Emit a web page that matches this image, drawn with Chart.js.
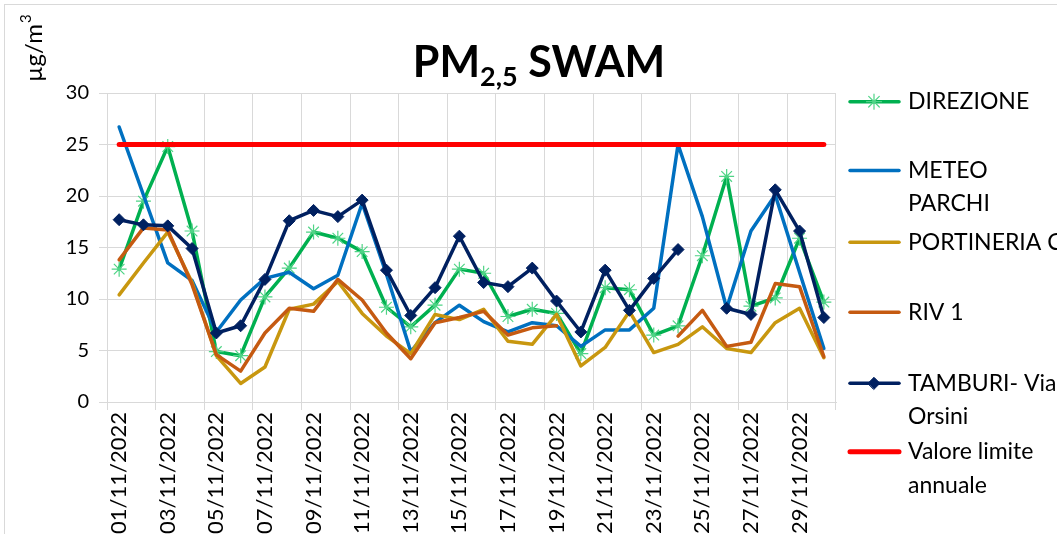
<!DOCTYPE html>
<html><head><meta charset="utf-8">
<script src="https://cdn.jsdelivr.net/npm/chart.js@4.4.0/dist/chart.umd.min.js"></script>
<style>html,body{margin:0;padding:0;background:#fff;overflow:hidden;}#wrap{width:1057px;height:534px;position:relative;}</style>
</head><body><div id="wrap"><canvas id="c" width="1057" height="534"></canvas></div>
<script>
const categories = ['01/11/2022','02/11/2022','03/11/2022','04/11/2022','05/11/2022','06/11/2022','07/11/2022','08/11/2022','09/11/2022','10/11/2022','11/11/2022','12/11/2022','13/11/2022','14/11/2022','15/11/2022','16/11/2022','17/11/2022','18/11/2022','19/11/2022','20/11/2022','21/11/2022','22/11/2022','23/11/2022','24/11/2022','25/11/2022','26/11/2022','27/11/2022','28/11/2022','29/11/2022','30/11/2022'];
const direzione   = [12.9,19.5,24.8,16.6,4.9,4.5,10.2,13.0,16.5,15.9,14.6,9.2,7.3,9.4,12.9,12.5,8.3,9.0,8.6,4.7,11.1,10.9,6.5,7.4,14.2,21.9,9.3,10.1,15.9,9.7];
const meteoParchi = [26.7,20.1,13.5,11.8,6.8,9.9,12.0,12.6,11.0,12.3,19.3,12.4,4.9,7.7,9.4,7.8,6.8,7.7,7.4,5.4,7.0,7.0,9.1,25.0,18.0,9.1,16.6,20.1,12.6,5.2];
const portineriaC = [10.4,13.5,16.5,11.6,4.5,1.8,3.4,9.0,9.5,11.7,8.6,6.4,4.7,8.5,8.0,9.0,5.9,5.6,8.5,3.5,5.3,8.8,4.8,5.6,7.3,5.2,4.8,7.7,9.1,4.3];
const riv1        = [13.8,16.9,16.7,11.4,4.6,3.0,6.7,9.1,8.8,11.9,9.9,6.7,4.2,7.7,8.2,8.8,6.5,7.2,7.4,null,null,null,null,6.4,8.9,5.4,5.8,11.5,11.2,4.4];
const tamburi     = [17.7,17.2,17.1,14.9,6.7,7.4,11.9,17.6,18.6,18.0,19.6,12.8,8.4,11.1,16.1,11.6,11.2,13.0,9.8,6.8,12.8,8.9,12.0,14.8,null,9.1,8.5,20.6,16.6,8.2];
const valoreLimite = [25,25,25,25,25,25,25,25,25,25,25,25,25,25,25,25,25,25,25,25,25,25,25,25,25,25,25,25,25,25];
const seriesNames = ['DIREZIONE','METEO PARCHI','PORTINERIA C','RIV 1','TAMBURI- Via Orsini','Valore limite annuale'];
const legendLines = [['DIREZIONE'],['METEO','PARCHI'],['PORTINERIA C'],['RIV 1'],['TAMBURI- Via','Orsini'],['Valore limite','annuale']];
const yTicks = [0,5,10,15,20,25,30];

const FONT = 'Lato, "Open Sans", sans-serif';
const GRID = '#d9d9d9';
const legendRowY = [101.7,170.5,242.3,312.3,383.3,451.7];

const overlay = {
  id:'overlay',
  afterDraw(chart){
    const ctx = chart.ctx;
    ctx.save();
    ctx.strokeStyle = GRID; ctx.lineWidth = 1;
    ctx.strokeRect(4.5,4.5,1100,600);
    // title
    ctx.fillStyle = '#000'; ctx.textBaseline = 'alphabetic'; ctx.textAlign='left';
    const big = 'bold 43px '+FONT, small = 'bold 27px '+FONT;
    ctx.font = big; const w1 = ctx.measureText('PM').width, w3 = ctx.measureText(' SWAM').width;
    ctx.font = small; const w2 = ctx.measureText('2,5').width;
    let x = 539 - (w1+w2+w3)/2; const base = 77;
    ctx.font = big; ctx.fillText('PM',x,base); x += w1;
    ctx.font = small; ctx.fillText('2,5',x,base+9); x += w2;
    ctx.font = big; ctx.fillText(' SWAM',x,base);
    // unit label
    ctx.save();
    ctx.translate(42,82); ctx.rotate(-Math.PI/2);
    ctx.font = '24px '+FONT; ctx.fillText('µg/m',0,0);
    const wu = ctx.measureText('µg/m').width;
    ctx.font = '15px '+FONT; ctx.fillText('3',wu+1,-11);
    ctx.restore();
    // legend
    chart.data.datasets.forEach((ds,i)=>{
      const y = legendRowY[i];
      ctx.strokeStyle = ds.borderColor; ctx.lineWidth = ds.borderWidth; ctx.lineCap='round';
      ctx.beginPath(); ctx.moveTo(850,y); ctx.lineTo(899,y); ctx.stroke();
      if (ds.pointRadius > 0) {
        ctx.save();
        ctx.fillStyle = ds.pointBackgroundColor; ctx.strokeStyle = ds.pointBorderColor; ctx.lineWidth = ds.pointBorderWidth;
        Chart.helpers.drawPoint(ctx,{pointStyle:ds.pointStyle,radius:ds.pointRadius,borderWidth:ds.pointBorderWidth,rotation:0},874,y);
        ctx.restore();
      }
      ctx.fillStyle = '#000'; ctx.font = '23px '+FONT; ctx.textBaseline='middle';
      legendLines[i].forEach((t,k)=> ctx.fillText(t,908,y+k*33.5));
    });
    ctx.restore();
  }
};

const mk = (label,data,color,extra) => Object.assign({label,data,borderColor:color,backgroundColor:color,borderWidth:3.5,tension:0,pointRadius:0,pointHoverRadius:0,pointBorderWidth:1,pointBackgroundColor:color,pointBorderColor:color,spanGaps:false,borderCapStyle:'round',borderJoinStyle:'round'},extra||{});

new Chart(document.getElementById('c'),{
  type:'line',
  data:{labels:categories,datasets:[
    mk(seriesNames[0],direzione,'#00B050',{order:5,pointStyle:'star',pointRadius:7.5,pointBorderWidth:1.2,pointBorderColor:'#4fd486',pointBackgroundColor:'#4fd486'}),
    mk(seriesNames[1],meteoParchi,'#0070C0',{order:4}),
    mk(seriesNames[2],portineriaC,'#C8970F',{order:3}),
    mk(seriesNames[3],riv1,'#C55A11',{order:2}),
    mk(seriesNames[4],tamburi,'#002060',{order:1,pointStyle:'rectRot',pointRadius:6,pointBorderWidth:1}),
    mk(seriesNames[5],valoreLimite,'#FF0000',{order:0,borderWidth:5})
  ]},
  options:{
    responsive:false, animation:false, devicePixelRatio:1,
    layout:{padding:{left:0,right:221,top:93,bottom:0}},
    plugins:{legend:{display:false},tooltip:{enabled:false},title:{display:false}},
    scales:{
      x:{offset:true,
         grid:{offset:true,tickLength:8,color:c=>(c.index===undefined||c.index%2===0)?GRID:'rgba(0,0,0,0)'},
         border:{color:GRID},
         ticks:{autoSkip:false,maxRotation:90,minRotation:90,padding:2,color:'#000',font:{family:FONT,size:22},
                callback:(v,i)=> i%2===0 ? categories[i] : ''},
         afterFit:s=>{s.height=132;}},
      y:{min:0,max:30,
         grid:{color:GRID,tickLength:8},
         border:{color:GRID},
         ticks:{stepSize:5,padding:10,color:'#000',font:{family:FONT,size:20},callback:(v)=> yTicks.includes(v)?String(v):''},
         afterFit:s=>{s.width=107;}}
    }
  },
  plugins:[overlay]
});
</script></body></html>
